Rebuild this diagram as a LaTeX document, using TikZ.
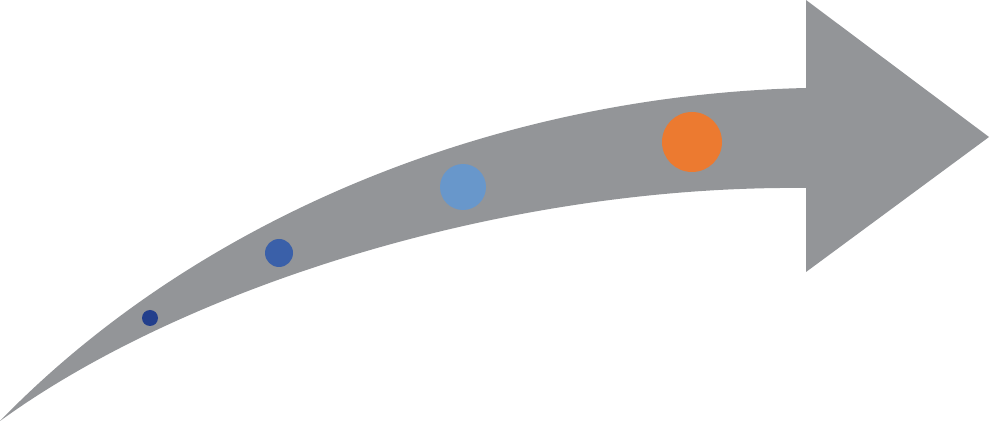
\documentclass[tikz,border=0pt]{standalone}
\usepackage{tikz}

\definecolor{pfeilgrau}{HTML}{939598}
\definecolor{dunkelblau}{HTML}{233F8C}
\definecolor{mittelblau}{HTML}{3A60A9}
\definecolor{hellblau}{HTML}{6897CB}
\definecolor{orange}{HTML}{EC7A30}

\begin{document}
\begin{tikzpicture}[
x=0.02cm, y=-0.02cm,
pfeil/.style={fill=pfeilgrau, draw=none},
kreis/.style={circle, inner sep=0pt, draw=none},
]

\useasboundingbox (0,0) rectangle (990,421);

%Pfeil mit gebogenem Schaft
\fill[pfeil] (0,421) .. controls (200,215) and (500,95) .. (806,88)
  -- (806,0) -- (989,137) -- (806,272) -- (806,188)
  .. controls (500,185) and (180,290) .. (0,421) -- cycle;

\node[kreis, minimum size=0.32cm, fill=dunkelblau] (A) at (150,318){};
\node[kreis, minimum size=0.56cm, fill=mittelblau] (B) at (279,253){};
\node[kreis, minimum size=0.92cm, fill=hellblau] (C) at (463,187){};
\node[kreis, minimum size=1.2cm, fill=orange] (D) at (692,142){};

\end{tikzpicture}
\end{document}
